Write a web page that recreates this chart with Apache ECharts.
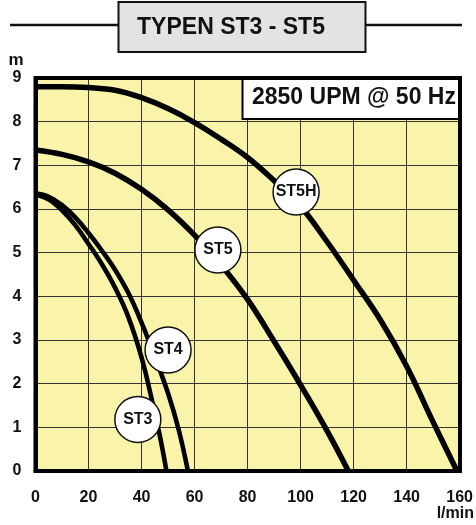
<!DOCTYPE html>
<html>
<head>
<meta charset="utf-8">
<script src="https://cdn.jsdelivr.net/npm/echarts@6/dist/echarts.min.js"></script>
<style>
html,body{margin:0;padding:0;background:#fff;}
#c{width:476px;height:525px;}
</style>
</head>
<body>
<div id="c"></div>
<script>
// ---- data (flow in l/min, head in m) ----
const st3Flow = [0, 5, 10, 15, 20, 25, 30, 35, 40, 44, 47, 49.4];
const st3Head = [6.32, 6.22, 5.97, 5.63, 5.2, 4.74, 4.2, 3.53, 2.6, 1.6, 0.78, 0];

const st4Flow = [0, 5, 10, 15, 20, 25, 30, 35, 40, 45, 50, 54, 57.5];
const st4Head = [6.36, 6.28, 6.09, 5.81, 5.45, 5.05, 4.61, 4.08, 3.4, 2.62, 1.78, 0.95, 0];

const st5Flow = [0, 10, 20, 30, 40, 50, 60, 70, 80, 90, 100, 110, 118];
const st5Head = [7.35, 7.25, 7.08, 6.82, 6.45, 5.98, 5.4, 4.72, 3.93, 2.97, 1.97, 0.92, 0];

const st5hFlow = [0, 10, 20, 30, 40, 50, 60, 70, 80, 90, 100, 110, 120, 130, 140, 150, 159];
const st5hHead = [8.8, 8.8, 8.78, 8.72, 8.55, 8.3, 7.98, 7.6, 7.18, 6.65, 6.06, 5.25, 4.37, 3.47, 2.4, 1.12, 0];

const labelNames = ['ST3', 'ST4', 'ST5', 'ST5H'];
const labelFlow = [38.6, 50, 68.8, 98.3];
const labelHead = [1.18, 2.77, 5.06, 6.39];

const xTicks = { min: 0, max: 160, interval: 20 };
const yTicks = { min: 0, max: 9, interval: 1 };

const titleText = 'TYPEN ST3 - ST5';
const speedText = '2850 UPM @ 50 Hz';
const xUnit = 'l/min';
const yUnit = 'm';

// ---- chart ----
const FONT = '"Liberation Sans", Arial, Helvetica, sans-serif';
const zip = (a, b) => a.map((v, i) => [v, b[i]]);

function curve(name, fx, hy, w) {
  return {
    name: name,
    type: 'line',
    data: zip(fx, hy),
    smooth: 0.4,
    showSymbol: false,
    symbol: 'none',
    lineStyle: { color: '#000', width: w, cap: 'butt', join: 'round' },
    z: 3,
    silent: true,
    animation: false
  };
}

const chart = echarts.init(document.getElementById('c'), null, { renderer: 'canvas' });
chart.setOption({
  animation: false,
  backgroundColor: '#ffffff',
  grid: {
    left: 35.5, right: 16, top: 78, bottom: 54,
    show: true,
    backgroundColor: '#f9f4a9',
    borderColor: '#000',
    borderWidth: 0
  },
  xAxis: {
    type: 'value',
    min: xTicks.min, max: xTicks.max, interval: xTicks.interval,
    axisLine: { show: true, onZero: false, lineStyle: { color: '#000', width: 4 } },
    axisTick: { show: false },
    minorTick: { show: true, splitNumber: 8, length: 2, lineStyle: { color: '#999', width: 1 } },
    axisLabel: { show: true, margin: 19, color: '#111', fontFamily: FONT, fontWeight: 'bold', fontSize: 16 },
    splitLine: { show: true, lineStyle: { color: '#333', width: 1 } }
  },
  yAxis: {
    type: 'value',
    min: yTicks.min, max: yTicks.max, interval: yTicks.interval,
    axisLine: { show: true, onZero: false, lineStyle: { color: '#000', width: 4 } },
    axisTick: { show: false },
    minorTick: { show: true, splitNumber: 5, length: 2, lineStyle: { color: '#999', width: 1 } },
    axisLabel: { show: true, margin: 14, color: '#111', fontFamily: FONT, fontWeight: 'bold', fontSize: 16 },
    splitLine: { show: true, lineStyle: { color: '#333', width: 1 } }
  },
  series: [
    curve('ST3', st3Flow, st3Head, 4.6),
    curve('ST4', st4Flow, st4Head, 4.6),
    curve('ST5', st5Flow, st5Head, 5.5),
    curve('ST5H', st5hFlow, st5hHead, 5.5),
    {
      name: 'labels',
      type: 'scatter',
      data: labelNames.map((n, i) => ({ name: n, value: [labelFlow[i], labelHead[i]] })),
      symbol: 'circle',
      symbolSize: 46,
      itemStyle: { color: '#ffffff', opacity: 1, borderColor: '#111', borderWidth: 1.5 },
      label: {
        show: true, position: 'inside',
        formatter: p => p.name,
        color: '#111', fontFamily: FONT, fontWeight: 'bold', fontSize: 16
      },
      emphasis: { disabled: true },
      z: 5,
      silent: true
    }
  ],
  graphic: [
    {
      type: 'rect', z: 10, silent: true,
      shape: { x: 35.5, y: 78, width: 476 - 35.5 - 16, height: 525 - 78 - 54 },
      style: { fill: null, stroke: '#000', lineWidth: 4 }
    },
    {
      type: 'rect', z: 9, silent: true,
      shape: { x: 242.5, y: 78, width: 476 - 16 - 242.5, height: 41 },
      style: { fill: '#fff', stroke: '#000', lineWidth: 2 }
    },
    {
      type: 'text', z: 11, silent: true,
      x: 252, y: 98,
      style: { text: speedText, fill: '#111', font: 'bold 23px ' + FONT, verticalAlign: 'middle', align: 'left' }
    },
    {
      type: 'line', z: 1, silent: true,
      shape: { x1: 10, y1: 25, x2: 462, y2: 25 },
      style: { stroke: '#111', lineWidth: 2.5 }
    },
    {
      type: 'rect', z: 2, silent: true,
      shape: { x: 118.5, y: 2, width: 247, height: 50 },
      style: { fill: '#e3e3e3', stroke: '#111', lineWidth: 2 }
    },
    {
      type: 'text', z: 3, silent: true,
      x: 231, y: 28,
      style: { text: titleText, fill: '#111', font: 'bold 23px ' + FONT, align: 'center', verticalAlign: 'middle' }
    },
    {
      type: 'text', silent: true,
      x: 16, y: 60,
      style: { text: yUnit, fill: '#111', font: 'bold 17px ' + FONT, align: 'center', verticalAlign: 'middle' }
    },
    {
      type: 'text', silent: true,
      x: 474, y: 514,
      style: { text: xUnit, fill: '#111', font: 'bold 16px ' + FONT, align: 'right', verticalAlign: 'middle' }
    }
  ]
});
</script>
</body>
</html>
